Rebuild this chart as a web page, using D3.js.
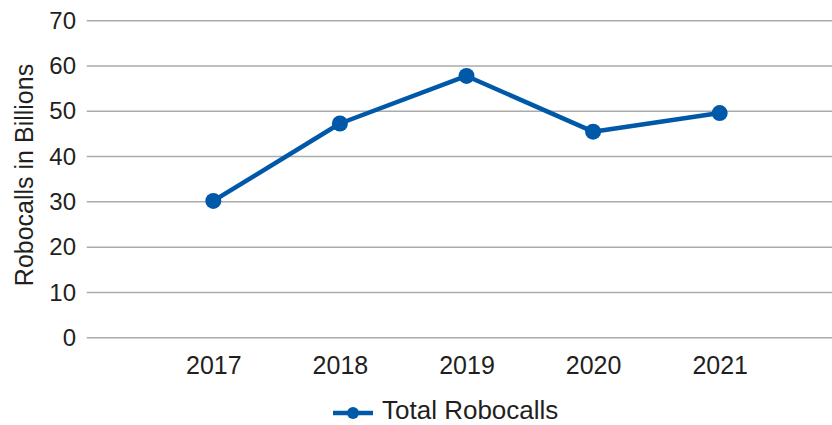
<!DOCTYPE html>
<html>
<head>
	<title>Total Robocalls</title>
	<script src="https://d3js.org/d3.v7.min.js"></script>
	<style type="text/css">
		*
		{
			margin:0;
			padding:0;
		}
		body
		{
			background:#fff;
			font-family: "Liberation Sans", Arial, sans-serif;
		}
		text
		{
			fill:#231f20;
		}
	</style>
</head>
<body>
	<div id="chart"></div>
	<script>
		const years = ["2017", "2018", "2019", "2020", "2021"];
		const robocalls = [30.2, 47.3, 57.8, 45.5, 49.6];
		const yTicks = [0, 10, 20, 30, 40, 50, 60, 70];
		const seriesName = "Total Robocalls";
		const yTitle = "Robocalls in Billions";

		const width = 832;
		const height = 425;
		const blue = "#0058a9";

		const svg = d3.select("#chart").append("svg").attr("width", width).attr("height", height);

		const xScale = d3.scalePoint().domain(years).range([86.7, 846.3]).padding(1);
		const yScale = d3.scaleLinear().domain([0, 70]).range([337.7, 20.7]);

		// gridlines
		svg.append("g")
			.selectAll("line")
			.data(yTicks)
			.enter()
			.append("line")
			.attr("x1", 86.7)
			.attr("x2", width)
			.attr("y1", d => yScale(d))
			.attr("y2", d => yScale(d))
			.style("stroke", "#ababab")
			.style("stroke-width", 1.5);

		const yAxis = d3.axisLeft(yScale).tickValues(yTicks).tickSize(0).tickPadding(0);
		svg.append("g")
			.attr("transform", "translate(76, 0)")
			.call(yAxis)
			.call(g => g.select(".domain").remove())
			.selectAll("text")
			.style("font-size", "24px")
			.style("font-family", "Liberation Sans, Arial, sans-serif")
			.attr("fill", "#231f20");

		const xAxis = d3.axisBottom(xScale).tickSize(0).tickPadding(0);
		svg.append("g")
			.attr("transform", "translate(0, 356)")
			.call(xAxis)
			.call(g => g.select(".domain").remove())
			.selectAll("text")
			.attr("dy", "0.72em")
			.style("font-size", "25px")
			.style("font-family", "Liberation Sans, Arial, sans-serif")
			.attr("fill", "#231f20");

		svg.append("text")
			.attr("transform", "translate(33, 175) rotate(-90)")
			.attr("text-anchor", "middle")
			.style("font-size", "25px")
			.text(yTitle);

		const line = d3.line()
			.x((d, i) => xScale(years[i]))
			.y(d => yScale(d));

		svg.append("path")
			.datum(robocalls)
			.attr("d", line)
			.style("fill", "none")
			.style("stroke", blue)
			.style("stroke-width", 4.5)
			.style("stroke-linejoin", "round");

		svg.selectAll("circle.dot")
			.data(robocalls)
			.enter()
			.append("circle")
			.attr("class", "dot")
			.attr("cx", (d, i) => xScale(years[i]))
			.attr("cy", d => yScale(d))
			.attr("r", 8)
			.style("fill", blue);

		// legend
		const legend = svg.append("g").attr("id", "legend");
		legend.append("line")
			.attr("x1", 333)
			.attr("x2", 373)
			.attr("y1", 413)
			.attr("y2", 413)
			.style("stroke", blue)
			.style("stroke-width", 4.5);
		legend.append("circle")
			.attr("cx", 353)
			.attr("cy", 413)
			.attr("r", 6)
			.style("fill", blue);
		legend.append("text")
			.attr("x", 382)
			.attr("y", 419)
			.style("font-size", "26px")
			.text(seriesName);
	</script>
</body>
</html>
